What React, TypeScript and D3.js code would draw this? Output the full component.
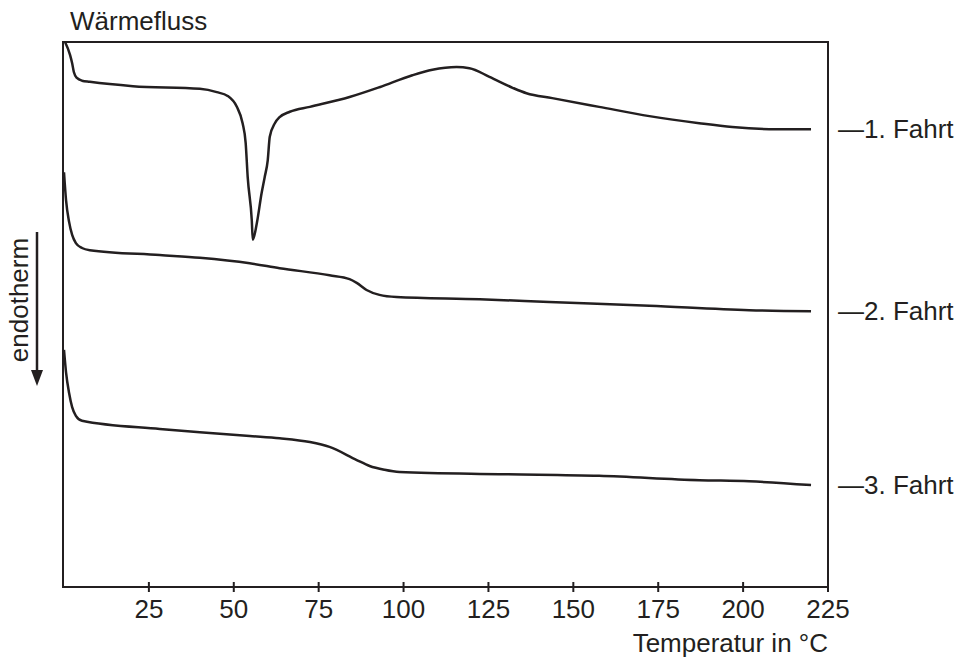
import React from 'react'
import * as d3 from 'd3'

// temperatures (°C) and heat flow (arbitrary units, 0..100)
const run1T = [0.3, 1.8, 2.4, 2.9, 3.8, 5.3, 7.6, 20.3, 40, 45, 48.2, 50.9, 52.6, 53.5, 54.1, 55.3, 55.6, 56.8, 58.2, 59.1, 60, 60.6, 62.1, 63.5, 66.5, 72.4, 84.1, 92.9, 102.6, 108.5, 115.6, 119.4, 125.3, 132.1, 136.2, 143.8, 157.6, 172.4, 187.1, 196.8, 209.7, 220]
const run1V = [100, 97.6, 96.1, 94.5, 93.4, 92.9, 92.7, 91.9, 91.4, 90.8, 90.1, 88.1, 85.1, 81.5, 75.2, 67.3, 63.7, 66.8, 72.3, 75.2, 78.3, 82.6, 85.1, 86.2, 87.2, 88.1, 89.9, 91.7, 93.9, 94.9, 95.4, 95.2, 93.6, 91.6, 90.6, 89.7, 88.1, 86.4, 85.1, 84.4, 84.0, 84.0]

const run2T = [0, 0.6, 1.5, 2.4, 3.5, 5.3, 7.6, 28.2, 40, 54.7, 63.5, 78.2, 84.1, 86.2, 89.1, 92.9, 97.9, 122.4, 142.9, 172.4, 201.8, 220]
const run2V = [76.1, 71.0, 67.0, 64.6, 63.1, 62.2, 61.8, 60.9, 60.4, 59.4, 58.5, 57.2, 56.5, 55.8, 54.5, 53.6, 53.2, 52.8, 52.3, 51.6, 50.8, 50.6]

const run3T = [0, 0.6, 1.5, 2.4, 3.5, 5.3, 28.2, 40, 54.7, 63.5, 72.4, 78.2, 86.2, 90, 94.4, 98.8, 128.2, 157.6, 187.1, 201.8, 220]
const run3V = [43.5, 39.4, 35.6, 33.0, 31.4, 30.5, 29.0, 28.4, 27.7, 27.3, 26.6, 25.7, 23.3, 22.2, 21.5, 21.1, 20.7, 20.4, 19.6, 19.4, 18.7]

const runLabels = ['1. Fahrt', '2. Fahrt', '3. Fahrt']
const xTicks = [25, 50, 75, 100, 125, 150, 175, 200, 225]

const W = 961
const H = 661
const left = 64
const right = 828
const top = 42
const bottom = 587
const ink = '#231f20'
const font = '"Liberation Sans", Arial, Helvetica, sans-serif'

function App() {
  const x = d3.scaleLinear().domain([0, 225]).range([left, right])
  const y = d3.scaleLinear().domain([0, 100]).range([bottom, top])

  const line = d3
    .line<[number, number]>()
    .x((d) => x(d[0]))
    .y((d) => y(d[1]))
    .curve(d3.curveMonotoneX)

  const runs = [
    d3.zip(run1T, run1V) as [number, number][],
    d3.zip(run2T, run2V) as [number, number][],
    d3.zip(run3T, run3V) as [number, number][],
  ]

  return (
    <svg
      width={W}
      height={H}
      style={{ position: 'absolute', left: 0, top: 0, background: '#fff' }}
      fontFamily={font}
    >
      <rect x={left - 1} y={top} width={right - left + 1} height={bottom - top} fill="none" stroke={ink} strokeWidth={2} />

      {xTicks.map((t) => (
        <g key={t}>
          <line x1={x(t)} x2={x(t)} y1={bottom - 5} y2={bottom + 5} stroke={ink} strokeWidth={2} />
          <text x={x(t)} y={618} textAnchor="middle" fontSize={26} fill={ink}>
            {t}
          </text>
        </g>
      ))}

      {runs.map((r, i) => (
        <path key={i} d={line(r) || ''} fill="none" stroke={ink} strokeWidth={2.5} strokeLinejoin="round" />
      ))}

      {runs.map((r, i) => (
        <text key={'l' + i} x={838} y={y(r[r.length - 1][1]) + 9} fontSize={26} fill={ink}>
          {'—' + runLabels[i]}
        </text>
      ))}

      <text x={70} y={30} fontSize={26} fill={ink}>Wärmefluss</text>
      <text x={right} y={652} textAnchor="end" fontSize={26} fill={ink}>Temperatur in °C</text>

      {/* endotherm arrow */}
      <line x1={37} x2={37} y1={232} y2={372} stroke={ink} strokeWidth={2.5} />
      <path d="M31,370 L43,370 L37,386 Z" fill={ink} />
      <text transform="translate(28,300) rotate(-90)" textAnchor="middle" fontSize={26} fill={ink}>
        endotherm
      </text>
    </svg>
  )
}

export default App
